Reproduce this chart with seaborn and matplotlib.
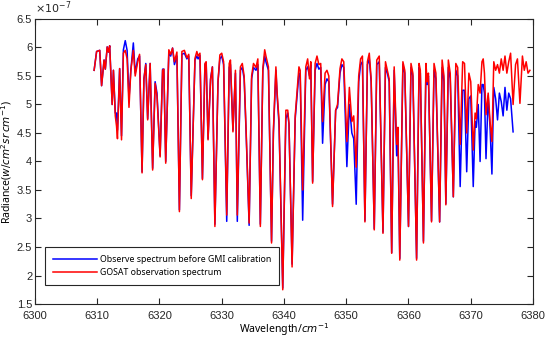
import matplotlib
matplotlib.use("Agg")
import matplotlib.pyplot as plt
import numpy as np
import pandas as pd
import seaborn as sns

# Datos (radiancia en unidades de 1e-7)
wavenumber = [
    6309.5, 6309.9, 6310.4, 6310.7, 6311.1, 6311.3, 6311.6, 6311.8, 6312.0, 6312.4,
    6312.6, 6312.9, 6313.1, 6313.25, 6313.6, 6313.9, 6314.2, 6314.5, 6314.8, 6315.1,
    6315.4, 6315.8, 6316.1, 6316.5, 6316.8, 6317.2, 6317.5, 6317.8, 6318.1, 6318.5,
    6318.9, 6319.3, 6319.6, 6320.1, 6320.5, 6320.7, 6321.0, 6321.5, 6321.8, 6322.1,
    6322.4, 6322.8, 6323.2, 6323.6, 6324.0, 6324.4, 6324.7, 6325.1, 6325.7, 6326.0,
    6326.2, 6326.5, 6326.9, 6327.3, 6327.5, 6327.8, 6328.2, 6328.5, 6328.9, 6329.4,
    6329.7, 6330.0, 6330.3, 6330.8, 6331.2, 6331.4, 6331.8, 6332.2, 6332.5, 6333.0,
    6333.3, 6333.6, 6333.9, 6334.4, 6334.8, 6335.1, 6335.5, 6335.8, 6336.2, 6336.6,
    6336.9, 6337.1, 6337.5, 6338.0, 6338.3, 6338.7, 6338.9, 6339.2, 6339.8, 6340.3,
    6340.6, 6340.8, 6341.3, 6341.8, 6342.4, 6342.6, 6343.0, 6343.5, 6343.8, 6344.1,
    6344.3, 6344.6, 6345.0, 6345.3, 6345.6, 6345.9, 6346.2, 6346.6, 6346.9, 6347.2,
    6347.8, 6348.3, 6348.6, 6349.0, 6349.3, 6349.6, 6350.1, 6350.5, 6350.9, 6351.2,
    6351.6, 6352.0, 6352.3, 6352.6, 6353.0, 6353.4, 6353.7, 6354.0, 6354.5, 6354.9,
    6355.3, 6355.9, 6356.3, 6356.6, 6356.9, 6357.3, 6357.7, 6358.1, 6358.3, 6358.6,
    6359.1, 6359.4, 6360.0, 6360.4, 6360.7, 6361.3, 6361.7, 6361.9, 6362.4, 6362.8,
    6363.0, 6363.2, 6363.7, 6364.1, 6364.4, 6365.0, 6365.4, 6365.7, 6366.0, 6366.4,
    6366.7, 6367.2, 6367.6, 6367.9, 6368.3, 6368.7, 6369.0, 6369.35, 6369.7, 6370.0,
    6370.4, 6370.7, 6370.9, 6371.2, 6371.5, 6371.8, 6372.0, 6372.2, 6372.45, 6372.8,
    6373.1, 6373.4, 6373.7, 6374.0, 6374.3, 6374.6, 6374.9, 6375.2, 6375.5, 6375.8,
    6376.1, 6376.4, 6376.8, 6377.2, 6377.5, 6377.9, 6378.3, 6378.6, 6378.9, 6379.2,
    6379.5,
]

gosat = [
    5.60, 5.93, 5.95, 5.33, 5.78, 5.62, 6.01, 5.92, 6.03, 5.00,
    5.60, 4.80, 4.62, 4.40, 5.63, 4.38, 5.90, 5.95, 5.80, 4.95,
    5.60, 5.95, 5.50, 5.75, 5.88, 3.80, 5.45, 5.70, 4.73, 5.72,
    3.85, 5.37, 5.14, 4.08, 5.60, 5.62, 3.97, 5.96, 5.88, 5.99,
    5.75, 5.92, 3.12, 5.93, 5.95, 5.82, 5.88, 3.35, 5.81, 5.93,
    5.85, 5.90, 3.68, 5.72, 5.75, 4.38, 5.43, 5.66, 2.86, 5.40,
    5.87, 5.90, 5.75, 3.06, 5.72, 5.78, 4.52, 5.60, 3.06, 5.66,
    5.72, 5.50, 4.60, 2.92, 5.50, 5.72, 5.65, 5.80, 2.86, 5.63,
    5.96, 5.85, 5.66, 2.57, 4.55, 5.66, 5.20, 4.73, 1.75, 4.90,
    4.90, 4.67, 2.15, 4.80, 5.66, 5.60, 3.50, 5.66, 5.80, 5.45,
    5.75, 3.62, 5.72, 5.85, 5.70, 5.72, 4.70, 5.55, 5.60, 5.50,
    3.21, 4.90, 5.00, 5.63, 5.80, 5.75, 4.35, 5.30, 4.70, 4.80,
    3.90, 5.50, 5.80, 5.85, 2.94, 5.75, 5.90, 5.45, 2.80, 5.78,
    5.85, 2.74, 5.75, 5.60, 5.45, 2.39, 5.66, 4.30, 4.60, 2.27,
    5.75, 5.60, 2.86, 5.72, 5.55, 2.27, 5.72, 5.60, 2.57, 5.72,
    5.40, 5.55, 2.94, 5.72, 5.55, 2.94, 5.78, 5.50, 3.24, 5.78,
    5.55, 3.38, 5.72, 5.65, 4.30, 5.75, 5.72, 4.50, 5.55, 5.40,
    4.20, 4.85, 4.75, 5.35, 5.20, 5.75, 5.80, 5.55, 4.82, 5.20,
    4.70, 4.35, 5.75, 5.60, 5.70, 5.55, 5.80, 5.60, 5.85, 5.55,
    5.75, 5.90, 5.00, 5.70, 5.80, 5.02, 5.85, 5.60, 5.75, 5.55,
    5.60,
]

# la curva azul termina antes (en 6376.8)
observed = [
    5.60, 5.93, 5.95, 5.33, 5.78, 5.62, 6.01, 5.92, 6.03, 5.00,
    5.60, 4.85, 4.85, 4.55, 5.63, 4.45, 5.96, 6.12, 5.95, 5.10,
    5.60, 6.08, 5.55, 5.80, 5.85, 3.82, 5.45, 5.72, 4.75, 5.72,
    3.88, 5.40, 5.20, 4.10, 5.62, 5.62, 4.00, 5.90, 5.85, 5.99,
    5.70, 5.85, 3.15, 5.88, 5.90, 5.80, 5.85, 3.40, 5.78, 5.85,
    5.80, 5.86, 3.70, 5.70, 5.72, 4.40, 5.45, 5.66, 2.90, 5.40,
    5.80, 5.85, 5.70, 2.95, 5.65, 5.70, 4.55, 5.55, 2.95, 5.60,
    5.65, 5.45, 4.55, 2.88, 5.45, 5.65, 5.60, 5.70, 2.90, 5.60,
    5.85, 5.75, 5.60, 2.60, 4.50, 5.60, 5.15, 4.65, 1.78, 4.75,
    4.85, 4.65, 2.20, 4.75, 5.55, 5.50, 2.97, 5.60, 5.66, 5.50,
    5.70, 3.65, 5.60, 5.72, 5.62, 5.65, 4.32, 5.35, 5.45, 5.40,
    3.25, 4.90, 4.95, 5.55, 5.70, 5.65, 3.91, 5.00, 4.50, 4.40,
    3.25, 5.40, 5.70, 5.75, 2.96, 5.70, 5.80, 5.40, 2.82, 5.70,
    5.75, 2.76, 5.65, 5.55, 5.40, 2.40, 5.60, 4.10, 4.50, 2.30,
    5.70, 5.55, 2.86, 5.65, 5.50, 2.30, 5.65, 5.55, 2.60, 5.60,
    5.35, 5.50, 2.96, 5.60, 5.45, 2.94, 5.65, 5.40, 3.26, 5.65,
    5.45, 3.38, 5.60, 5.50, 3.56, 5.25, 5.25, 3.82, 5.10, 5.15,
    3.56, 4.70, 4.60, 5.00, 4.00, 5.35, 5.35, 5.20, 4.05, 5.15,
    4.60, 3.78, 5.30, 5.10, 4.73, 5.20, 5.05, 4.80, 5.30, 4.90,
    5.20, 5.10, 4.52,
]

escala = 1e-7

df_red = pd.DataFrame({"x": wavenumber, "y": np.array(gosat) * escala})
df_blue = pd.DataFrame({"x": wavenumber[:len(observed)], "y": np.array(observed) * escala})

fig = plt.figure(figsize=(5.5, 3.41), dpi=100)
ax = fig.add_axes([0.0636, 0.1085, 0.9055, 0.8358])

sns.lineplot(data=df_blue, x="x", y="y", ax=ax, color="#0000ff", lw=1.1,
             sort=False, estimator=None, label="Observe spectrum before GMI calibration")
sns.lineplot(data=df_red, x="x", y="y", ax=ax, color="#ff0000", lw=1.1,
             sort=False, estimator=None, label="GOSAT observation spectrum")

# ejes estilo matlab
ax.set_xlim(6300, 6380)
ax.set_ylim(1.5e-7, 6.5e-7)
ax.set_xticks(np.arange(6300, 6381, 10))
ax.set_yticks(np.arange(1.5, 6.51, 0.5) * escala)
ax.yaxis.set_major_formatter(matplotlib.ticker.FuncFormatter(lambda v, p: f"{v / escala:g}"))
ax.tick_params(direction="in", top=True, right=True, length=4, width=0.8,
               labelsize=8, pad=2, colors="#262626")
ax.tick_params(axis="x", pad=5)
for lab in ax.get_xticklabels() + ax.get_yticklabels():
    lab.set_family("Liberation Sans")
for s in ax.spines.values():
    s.set_color("#262626")
    s.set_linewidth(0.8)

ax.text(0.0, 1.012, r"$\times10^{-7}$", transform=ax.transAxes, fontsize=8,
        family="Liberation Sans", color="#262626", ha="left", va="bottom")

ax.set_xlabel(r"Wavelength/$cm^{-1}$", fontsize=7.5, family="Noto Sans", labelpad=0)
ax.set_ylabel(r"Radiance($w/cm^2sr\,cm^{-1}$)", fontsize=7.5, family="Noto Sans")
ax.yaxis.set_label_coords(-0.043, 0.5)

leg = ax.legend(loc="lower left", bbox_to_anchor=(0.02, 0.067), borderaxespad=0,
                prop={"family": "Noto Sans", "size": 6.3}, frameon=True, fancybox=False,
                edgecolor="#262626", framealpha=1, handlelength=5.0, borderpad=0.95,
                labelspacing=0.4, handletextpad=0.3)
leg.get_frame().set_linewidth(0.8)

fig.savefig("out.png", dpi=100)
